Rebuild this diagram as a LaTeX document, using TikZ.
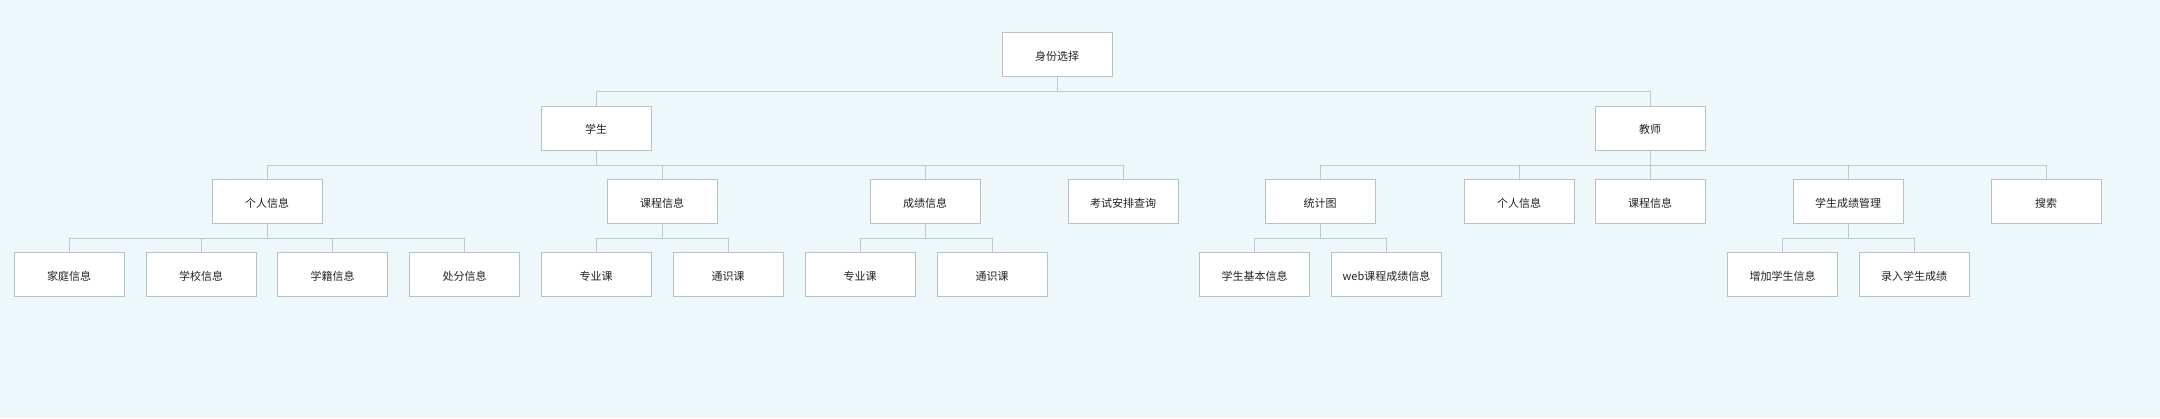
\documentclass[tikz,border=0pt]{standalone}
\usepackage{fontspec}
\setmainfont{Noto Sans CJK SC}
\definecolor{bgc}{HTML}{EEF7FA}
\definecolor{bordc}{HTML}{B4C2CC}
\definecolor{linec}{HTML}{BCCAD4}
\definecolor{txtc}{HTML}{222222}
\tikzset{
  boxnode/.style={draw=bordc, line width=1pt, fill=white, minimum width=110pt, minimum height=44pt, inner sep=0pt, text=txtc, text height=13pt, text depth=1.3pt, font=\fontsize{11pt}{13pt}\selectfont},
  conn/.style={draw=linec, line width=1pt}
}
\begin{document}
\begin{tikzpicture}[x=1pt,y=-1pt]
\fill[bgc] (0,0) rectangle (2160,418);
\useasboundingbox (0,0) rectangle (2160,418);
% level 0
\node[boxnode] (root) at (1057,54.5) {身份选择};
% level 1
\node[boxnode] (stu) at (596,128) {学生};
\node[boxnode] (tea) at (1650,128) {教师};
% level 2 student
\node[boxnode] (sinfo) at (267,201.5) {个人信息};
\node[boxnode] (scourse) at (662,201.5) {课程信息};
\node[boxnode] (sgrade) at (925,201.5) {成绩信息};
\node[boxnode] (sexam) at (1123,201.5) {考试安排查询};
% level 2 teacher
\node[boxnode] (tstat) at (1320,201.5) {统计图};
\node[boxnode] (tinfo) at (1519,201.5) {个人信息};
\node[boxnode] (tcourse) at (1650,201.5) {课程信息};
\node[boxnode] (tgrade) at (1848,201.5) {学生成绩管理};
\node[boxnode] (tsearch) at (2046,201.5) {搜索};
% level 3
\node[boxnode] (family) at (69,274.5) {家庭信息};
\node[boxnode] (school) at (201,274.5) {学校信息};
\node[boxnode] (roll) at (332.5,274.5) {学籍信息};
\node[boxnode] (punish) at (464.5,274.5) {处分信息};
\node[boxnode] (cmajor) at (596,274.5) {专业课};
\node[boxnode] (cgen) at (728,274.5) {通识课};
\node[boxnode] (gmajor) at (860,274.5) {专业课};
\node[boxnode] (ggen) at (992,274.5) {通识课};
\node[boxnode] (sbasic) at (1254.5,274.5) {学生基本信息};
\node[boxnode] (sweb) at (1386.5,274.5) {web课程成绩信息};
\node[boxnode] (addstu) at (1782.5,274.5) {增加学生信息};
\node[boxnode] (entergr) at (1914,274.5) {录入学生成绩};
% connectors
\foreach \c in {stu,tea} \draw[conn] (root.south) -- ++(0,14.5) -| (\c.north);
\foreach \c in {sinfo,scourse,sgrade,sexam} \draw[conn] (stu.south) -- ++(0,14.5) -| (\c.north);
\foreach \c in {tstat,tinfo,tcourse,tgrade,tsearch} \draw[conn] (tea.south) -- ++(0,14.5) -| (\c.north);
\foreach \c in {family,school,roll,punish} \draw[conn] (sinfo.south) -- ++(0,14.5) -| (\c.north);
\foreach \c in {cmajor,cgen} \draw[conn] (scourse.south) -- ++(0,14.5) -| (\c.north);
\foreach \c in {gmajor,ggen} \draw[conn] (sgrade.south) -- ++(0,14.5) -| (\c.north);
\foreach \c in {sbasic,sweb} \draw[conn] (tstat.south) -- ++(0,14.5) -| (\c.north);
\foreach \c in {addstu,entergr} \draw[conn] (tgrade.south) -- ++(0,14.5) -| (\c.north);
\end{tikzpicture}
\end{document}
